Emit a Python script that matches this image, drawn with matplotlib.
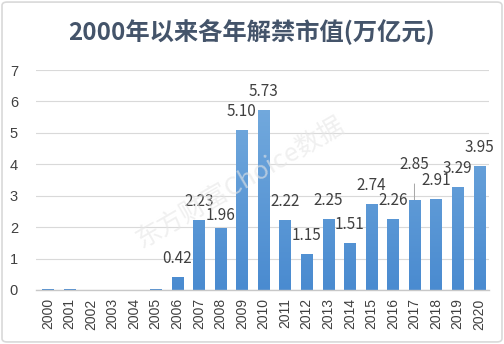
import matplotlib
matplotlib.use("Agg")
import numpy as np
import matplotlib.pyplot as plt
from matplotlib.patches import FancyBboxPatch
from matplotlib.colors import LinearSegmentedColormap

plt.rcParams['font.family'] = ['Noto Sans CJK SC', 'DejaVu Sans']

# data
years = [str(y) for y in range(2000, 2021)]
values = [0.03, 0.03, 0.0, 0.0, 0.0, 0.02, 0.42, 2.23, 1.96, 5.10, 5.73,
          2.22, 1.15, 2.25, 1.51, 2.74, 2.26, 2.85, 2.91, 3.29, 3.95]
labels = ['', '', '', '', '', '', '0.42', '2.23', '1.96', '5.10', '5.73',
          '2.22', '1.15', '2.25', '1.51', '2.74', '2.26', '2.85', '2.91', '3.29', '3.95']
title = "2000年以来各年解禁市值(万亿元)"
watermark = "东方财富Choice数据"

TEXT = '#404040'
GRID = '#D9D9D9'
BAR = '#5A97D4'
grad = LinearSegmentedColormap.from_list('bar', ['#4A8BD0', '#72A9DD'])
# label offsets (points) that differ from the default
label_off = {'2008': 9.5, '2017': 26}

fig = plt.figure(figsize=(5.04, 3.44), dpi=100)
fig.patch.set_facecolor('white')
# outer chart frame
fig.patches.append(FancyBboxPatch((0.004, 0.006), 0.992, 0.988,
                                  boxstyle="round,pad=0,rounding_size=0.01",
                                  transform=fig.transFigure, fc='none',
                                  ec=GRID, lw=1.2))

ax = fig.add_axes([0.0714, 0.157, 0.8986, 0.6395])
x = list(range(len(years)))
bars = ax.bar(x, values, width=0.52, color=BAR, zorder=3)

# vertical gradient fill, like the Excel bars
for b in bars:
    h = b.get_height()
    if h <= 0:
        continue
    x0 = b.get_x()
    im = ax.imshow(np.linspace(0, 1, 64).reshape(-1, 1), cmap=grad, aspect='auto',
                   origin='lower', extent=(x0, x0 + b.get_width(), 0, 5.8),
                   zorder=3.1, interpolation='bilinear')
    im.set_clip_path(b)
ax.set_xlim(-0.55, 20.45)
ax.set_ylim(0, 7)

ax.set_yticks(range(0, 8))
ax.set_xticks(x)
ax.set_xticklabels(years, rotation=90, fontsize=10, color=TEXT,
                   family='Liberation Sans')
ax.set_yticklabels([str(i) for i in range(0, 8)], fontsize=10.5, color=TEXT,
                   family='Liberation Sans')
ax.tick_params(axis='y', length=0, pad=13)
ax.tick_params(axis='x', length=0, pad=6)
ax.grid(axis='y', color=GRID, lw=0.8, zorder=0)
for s in ['top', 'right', 'left']:
    ax.spines[s].set_visible(False)
ax.spines['bottom'].set_color('#C8C8C8')
ax.spines['bottom'].set_linewidth(1)
ax.spines['bottom'].set_zorder(4)

for xi, v, lab in zip(x, values, labels):
    if not lab:
        continue
    off = label_off.get(years[xi], 13.3)
    if years[xi] == '2017':
        ax.annotate(lab, xy=(xi, v), xytext=(0, off), textcoords='offset points',
                    ha='center', va='center', fontsize=11, color=TEXT,
                    arrowprops=dict(arrowstyle='-', color='#A6A6A6', lw=0.7,
                                    shrinkA=6, shrinkB=0))
    else:
        ax.annotate(lab, xy=(xi, v), xytext=(0, off), textcoords='offset points',
                    ha='center', va='center', fontsize=11, color=TEXT)

fig.text(0.5, 0.907, title, ha='center', va='center', fontsize=17.5,
         fontweight='bold', color='#44546A')

# faint watermark, lightens the bars it crosses
fig.text(0.476, 0.468, watermark, ha='center', va='center', fontsize=18.5,
         rotation=30, color='#E6E6E6', alpha=0.6, zorder=10)

fig.savefig('out.png', dpi=100, facecolor='white')
